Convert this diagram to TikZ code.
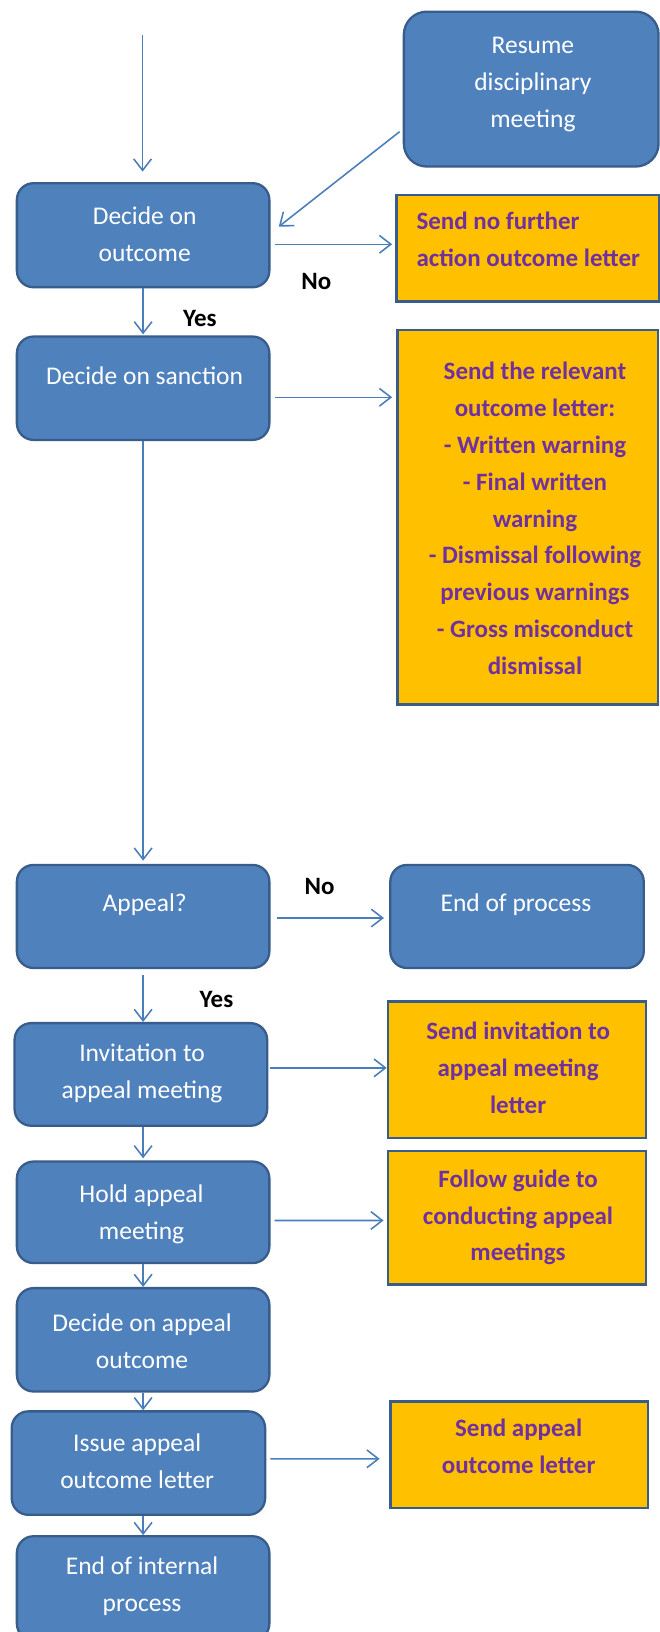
\documentclass[tikz,border=0pt]{standalone}
\usepackage{fontspec}
\setmainfont{Carlito}
\usetikzlibrary{arrows.meta,calc}
\definecolor{bfill}{HTML}{4F81BD}
\definecolor{bline}{HTML}{385D8A}
\definecolor{yfill}{HTML}{FFC000}
\definecolor{ptext}{HTML}{7030A0}
\definecolor{acol}{HTML}{4A7EBB}
\begin{document}
\begin{tikzpicture}[x=1pt,y=-1pt,
  bbox/.style={draw=bline, fill=bfill, line width=2.2pt, rounded corners=16pt, inner sep=0pt},
  ybox/.style={draw=bline, fill=yfill, line width=2.5pt, inner sep=0pt},
  btext/.style={text=white, align=center, font=\fontsize{24.5}{35.5}\selectfont, inner sep=0pt},
  ytext/.style={text=ptext, align=center, font=\bfseries\fontsize{24}{35.5}\selectfont, inner sep=0pt},
  lbl/.style={font=\bfseries\fontsize{24}{26}\selectfont, inner sep=0pt},
  arr/.style={draw=acol, line width=1.5pt, -{Straight Barb[length=11pt,width=17pt,line width=1.5pt]}}]
\useasboundingbox (0,0) rectangle (634,1568);
\fill[white] (0,0) rectangle (634,1568);

% blue boxes
\node[bbox, rounded corners=22pt, minimum width=244.7pt, minimum height=148.8pt] (resume) at (510.4,85.6) {};
\node[bbox, minimum width=242.6pt, minimum height=100pt] (out) at (137.5,226) {};
\node[bbox, minimum width=242.6pt, minimum height=99.3pt] (sanc) at (137.5,373) {};
\node[bbox, minimum width=242.6pt, minimum height=99pt] (appeal) at (137.5,880.5) {};
\node[bbox, minimum width=243.5pt, minimum height=99pt] (end) at (496.75,880.5) {};
\node[bbox, minimum width=242.7pt, minimum height=98.6pt] (inv) at (135.35,1032.3) {};
\node[bbox, minimum width=242.6pt, minimum height=97.5pt] (hold) at (137.5,1164.75) {};
\node[bbox, minimum width=242.6pt, minimum height=99.3pt] (dapp) at (137.5,1287.25) {};
\node[bbox, minimum width=243.5pt, minimum height=99.4pt] (issue) at (133,1405.7) {};
\node[bbox, minimum width=242.6pt, minimum height=100pt] (endint) at (137.5,1526) {};

% yellow boxes
\node[ybox, minimum width=252pt, minimum height=102.5pt] (nfa) at (507,238.55) {};
\node[ybox, minimum width=250pt, minimum height=360pt] (sy) at (507,497) {};
\node[ybox, minimum width=247.8pt, minimum height=131.5pt] (y3) at (496.7,1027.75) {};
\node[ybox, minimum width=247.8pt, minimum height=128.4pt] (y4) at (496.7,1170.2) {};
\node[ybox, minimum width=247.6pt, minimum height=102.5pt] (y5) at (498.8,1397.75) {};

% texts in blue boxes
\node[btext] (resumeT) at (512,81) {Resume\\disciplinary\\meeting};
\node[btext] (outT) at (139,225.3) {Decide on\\outcome};
\node[btext] (sancT) at (139,361) {Decide on sanction};
\node[btext] (appealT) at (139,869) {Appeal?};
\node[btext] (endT) at (495.7,869) {End of process};
\node[btext] (invT) at (136.5,1031.1) {Invitation to\\appeal meeting};
\node[btext] (holdT) at (136,1166.4) {Hold appeal\\meeting};
\node[btext] (dappT) at (136.5,1288.8) {Decide on appeal\\outcome};
\node[btext] (issueT) at (131.8,1404.1) {Issue appeal\\outcome letter};
\node[btext] (endintT) at (136.5,1524) {End of internal\\process};

% texts in yellow boxes
\node[ytext, align=left, anchor=west] (nfaT) at (400,230) {Send no further\\action outcome letter};
\node[ytext] (syT) at (514,498) {Send the relevant\\outcome letter:\\- Written warning\\- Final written\\warning\\- Dismissal following\\previous warnings\\- Gross misconduct\\dismissal};
\node[ytext] (y3T) at (497.8,1025.5) {Send invitation to\\appeal meeting\\letter};
\node[ytext] (y4T) at (497.7,1169.6) {Follow guide to\\conducting appeal\\meetings};
\node[ytext] (y5T) at (498.3,1389.4) {Send appeal\\outcome letter};

% labels
\node[lbl] (no1) at (304,270) {No};
\node[lbl] (yes1) at (192,305.8) {Yes};
\node[lbl] (no2) at (307,851.7) {No};
\node[lbl] (yes2) at (208,960) {Yes};

% connectors
\coordinate (start) at (137,33.6);
\draw[arr, shorten >=10pt] (start) -- (start |- out.north);
\draw[arr] ($(resume.west)+(-3,40.9)$) -- ($(out.east)+(8,-8.3)$);
\draw[arr] ($(out.east)+(4,8.7)$) -- ($(nfa.west)+(-3,-3.85)$);
\draw[arr, shorten >=1pt] (out.south) -- (sanc.north);
\draw[arr] ($(sanc.east)+(4,8.7)$) -- ($(sy.west)+(-4,-115.3)$);
\draw[arr, shorten >=3pt] (sanc.south) -- (appeal.north);
\draw[arr] ($(appeal.east)+(6,1.5)$) -- ($(end.west)+(-5,1.5)$);
\draw[arr, shorten <=6pt] (appeal.south) -- (appeal.south |- inv.north);
\draw[arr] ($(inv.east)+(1.9,-6.3)$) -- ($(y3.west)+(0,-1.75)$);
\draw[arr, shorten >=2pt] (inv.south -| appeal.south) -- (appeal.south |- hold.north);
\draw[arr] ($(hold.east)+(4,7.85)$) -- ($(y4.west)+(-3,2.4)$);
\draw[arr] (hold.south) -- (dapp.north);
\draw[arr] (dapp.south) -- (dapp.south |- issue.north);
\draw[arr] ($(issue.east)+(3.8,-4.1)$) -- ($(y5.west)+(-9,3.85)$);
\draw[arr] (dapp.south |- issue.south) -- (dapp.south |- endint.north);
\end{tikzpicture}
\end{document}
